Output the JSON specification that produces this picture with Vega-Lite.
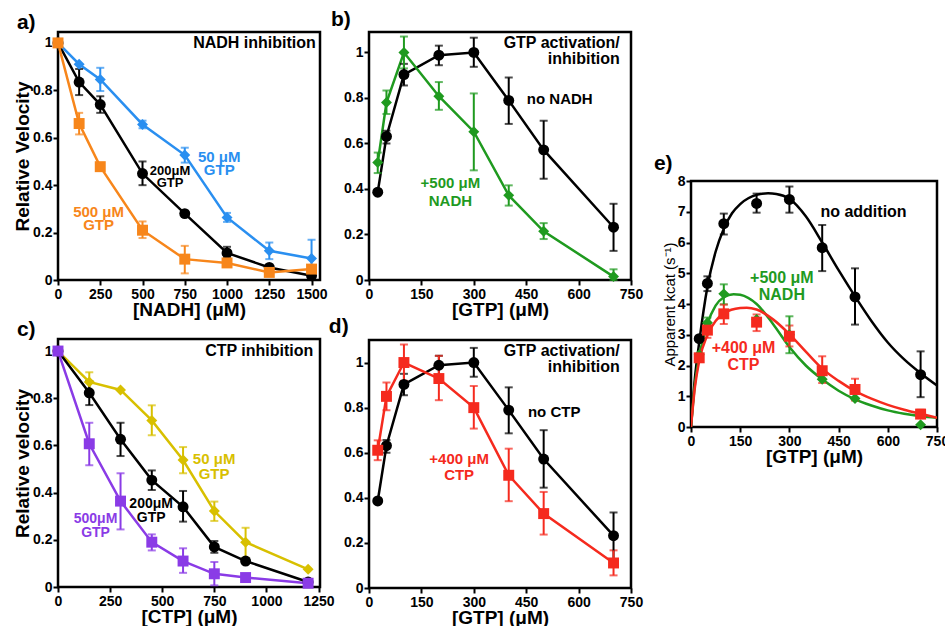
{
"$schema": "https://vega.github.io/schema/vega-lite/v6.json",
"background": "white",
"padding": {"left": 12, "top": 7, "right": 0, "bottom": 0},
"config": {
  "font": "Liberation Sans",
  "view": {"stroke": "black", "strokeWidth": 2.5},
  "axis": {"domain": false, "grid": false, "ticks": true, "tickSize": 5, "tickWidth": 2, "tickColor": "black",
           "labelFont": "Liberation Sans", "labelFontSize": 14, "labelFontWeight": "bold", "labelColor": "black",
           "labelPadding": 2, "labelFlush": false, "labelOverlap": false,
           "titleFont": "Liberation Sans", "titleFontSize": 19, "titleFontWeight": "bold", "titleColor": "black", "titlePadding": 2},
  "axisX": {"titlePadding": -1},
  "axisY": {"labelPadding": 1, "titlePadding": 0},
  "text": {"font": "Liberation Sans", "fontWeight": "bold"}
},
"datasets": {
  "a": [
    {"s":"a200","x":0,"y":1.0},{"s":"a200","x":125,"y":0.835,"lo":0.78,"hi":0.89},{"s":"a200","x":250,"y":0.74,"lo":0.705,"hi":0.775},{"s":"a200","x":500,"y":0.449,"lo":0.40,"hi":0.50},{"s":"a200","x":750,"y":0.28},{"s":"a200","x":1000,"y":0.114,"lo":0.095,"hi":0.14},{"s":"a200","x":1250,"y":0.053},{"s":"a200","x":1500,"y":0.018},
    {"s":"a50","x":0,"y":1.0},{"s":"a50","x":125,"y":0.91},{"s":"a50","x":250,"y":0.846,"lo":0.797,"hi":0.895},{"s":"a50","x":500,"y":0.656,"lo":0.64,"hi":0.672},{"s":"a50","x":750,"y":0.527,"lo":0.495,"hi":0.558},{"s":"a50","x":1000,"y":0.264,"lo":0.245,"hi":0.283},{"s":"a50","x":1250,"y":0.123,"lo":0.088,"hi":0.158},{"s":"a50","x":1500,"y":0.091,"lo":0.01,"hi":0.17},
    {"s":"a500","x":0,"y":1.0},{"s":"a500","x":125,"y":0.66,"lo":0.614,"hi":0.705},{"s":"a500","x":250,"y":0.478},{"s":"a500","x":500,"y":0.21,"lo":0.177,"hi":0.247},{"s":"a500","x":750,"y":0.088,"lo":0.028,"hi":0.144},{"s":"a500","x":1000,"y":0.072},{"s":"a500","x":1250,"y":0.032},{"s":"a500","x":1500,"y":0.046}
  ],
  "b": [
    {"s":"b0","x":25,"y":0.386},{"s":"b0","x":50,"y":0.631,"lo":0.60,"hi":0.656},{"s":"b0","x":100,"y":0.903,"lo":0.855,"hi":0.95},{"s":"b0","x":200,"y":0.988,"lo":0.944,"hi":1.03},{"s":"b0","x":300,"y":1.0,"lo":0.937,"hi":1.065},{"s":"b0","x":400,"y":0.789,"lo":0.686,"hi":0.89},{"s":"b0","x":500,"y":0.572,"lo":0.445,"hi":0.70},{"s":"b0","x":700,"y":0.232,"lo":0.128,"hi":0.335},
    {"s":"bN","x":25,"y":0.516,"lo":0.47,"hi":0.56},{"s":"bN","x":50,"y":0.78,"lo":0.73,"hi":0.833},{"s":"bN","x":100,"y":1.0,"lo":0.93,"hi":1.07},{"s":"bN","x":200,"y":0.808,"lo":0.748,"hi":0.87},{"s":"bN","x":300,"y":0.652,"lo":0.482,"hi":0.82},{"s":"bN","x":400,"y":0.372,"lo":0.327,"hi":0.416},{"s":"bN","x":500,"y":0.214,"lo":0.18,"hi":0.25},{"s":"bN","x":700,"y":0.015,"lo":0.0,"hi":0.047}
  ],
  "c": [
    {"s":"c50","x":0,"y":1.0},{"s":"c50","x":150,"y":0.869,"lo":0.823,"hi":0.91},{"s":"c50","x":300,"y":0.835},{"s":"c50","x":450,"y":0.706,"lo":0.643,"hi":0.77},{"s":"c50","x":600,"y":0.538,"lo":0.482,"hi":0.593},{"s":"c50","x":750,"y":0.322,"lo":0.28,"hi":0.362},{"s":"c50","x":900,"y":0.19,"lo":0.124,"hi":0.251},{"s":"c50","x":1200,"y":0.075},
    {"s":"c200","x":0,"y":1.0},{"s":"c200","x":150,"y":0.823,"lo":0.771,"hi":0.873},{"s":"c200","x":300,"y":0.626,"lo":0.555,"hi":0.696},{"s":"c200","x":450,"y":0.453,"lo":0.411,"hi":0.494},{"s":"c200","x":600,"y":0.34,"lo":0.277,"hi":0.407},{"s":"c200","x":750,"y":0.17,"lo":0.145,"hi":0.195},{"s":"c200","x":900,"y":0.11},{"s":"c200","x":1200,"y":0.021},
    {"s":"c500","x":0,"y":1.0},{"s":"c500","x":150,"y":0.607,"lo":0.516,"hi":0.696},{"s":"c500","x":300,"y":0.364,"lo":0.244,"hi":0.482},{"s":"c500","x":450,"y":0.19,"lo":0.155,"hi":0.223},{"s":"c500","x":600,"y":0.11,"lo":0.06,"hi":0.164},{"s":"c500","x":750,"y":0.056,"lo":0.007,"hi":0.106},{"s":"c500","x":900,"y":0.04},{"s":"c500","x":1200,"y":0.016}
  ],
  "d": [
    {"s":"d0","x":25,"y":0.386},{"s":"d0","x":50,"y":0.631,"lo":0.60,"hi":0.656},{"s":"d0","x":100,"y":0.903,"lo":0.855,"hi":0.95},{"s":"d0","x":200,"y":0.988,"lo":0.944,"hi":1.03},{"s":"d0","x":300,"y":1.0,"lo":0.937,"hi":1.065},{"s":"d0","x":400,"y":0.789,"lo":0.686,"hi":0.89},{"s":"d0","x":500,"y":0.572,"lo":0.445,"hi":0.70},{"s":"d0","x":700,"y":0.232,"lo":0.128,"hi":0.335},
    {"s":"dC","x":25,"y":0.611,"lo":0.567,"hi":0.655},{"s":"dC","x":50,"y":0.85,"lo":0.788,"hi":0.911},{"s":"dC","x":100,"y":1.0,"lo":0.919,"hi":1.08},{"s":"dC","x":200,"y":0.929,"lo":0.833,"hi":1.03},{"s":"dC","x":300,"y":0.80,"lo":0.707,"hi":0.896},{"s":"dC","x":400,"y":0.50,"lo":0.385,"hi":0.618},{"s":"dC","x":500,"y":0.33,"lo":0.237,"hi":0.426},{"s":"dC","x":700,"y":0.111,"lo":0.056,"hi":0.167}
  ],
  "e": [
    {"s":"e0","x":25,"y":2.87},{"s":"e0","x":50,"y":4.67,"lo":4.42,"hi":4.9},{"s":"e0","x":100,"y":6.61,"lo":6.26,"hi":6.94},{"s":"e0","x":200,"y":7.27,"lo":6.97,"hi":7.59},{"s":"e0","x":300,"y":7.40,"lo":6.97,"hi":7.82},{"s":"e0","x":400,"y":5.83,"lo":5.07,"hi":6.57},{"s":"e0","x":500,"y":4.23,"lo":3.33,"hi":5.16},{"s":"e0","x":700,"y":1.70,"lo":0.97,"hi":2.46},
    {"s":"eN","x":25,"y":2.35},{"s":"eN","x":50,"y":3.39,"lo":3.22,"hi":3.56},{"s":"eN","x":100,"y":4.33,"lo":3.99,"hi":4.64},{"s":"eN","x":200,"y":3.5},{"s":"eN","x":300,"y":3.0,"lo":2.4,"hi":3.6},{"s":"eN","x":400,"y":1.55},{"s":"eN","x":500,"y":0.93},{"s":"eN","x":700,"y":0.07},
    {"s":"eC","x":25,"y":2.25},{"s":"eC","x":50,"y":3.15,"lo":2.9,"hi":3.35},{"s":"eC","x":100,"y":3.68,"lo":3.35,"hi":3.98},{"s":"eC","x":200,"y":3.41,"lo":3.12,"hi":3.66},{"s":"eC","x":300,"y":2.95,"lo":2.62,"hi":3.3},{"s":"eC","x":400,"y":1.83,"lo":1.43,"hi":2.3},{"s":"eC","x":500,"y":1.22,"lo":0.86,"hi":1.57},{"s":"eC","x":700,"y":0.42,"lo":0.29,"hi":0.56}
  ],
  "ecurve": [
    {"s":"e0","x":0,"y":0},{"s":"e0","x":12,"y":1.6},{"s":"e0","x":25,"y":2.75},{"s":"e0","x":50,"y":4.55},{"s":"e0","x":75,"y":5.7},{"s":"e0","x":100,"y":6.45},{"s":"e0","x":125,"y":6.95},{"s":"e0","x":150,"y":7.25},{"s":"e0","x":200,"y":7.55},{"s":"e0","x":235,"y":7.6},{"s":"e0","x":260,"y":7.58},{"s":"e0","x":300,"y":7.42},{"s":"e0","x":350,"y":6.85},{"s":"e0","x":400,"y":6.0},{"s":"e0","x":450,"y":5.1},{"s":"e0","x":500,"y":4.25},{"s":"e0","x":550,"y":3.45},{"s":"e0","x":600,"y":2.75},{"s":"e0","x":650,"y":2.2},{"s":"e0","x":700,"y":1.75},{"s":"e0","x":750,"y":1.35},
    {"s":"eN","x":0,"y":0},{"s":"eN","x":12,"y":1.4},{"s":"eN","x":25,"y":2.3},{"s":"eN","x":50,"y":3.35},{"s":"eN","x":75,"y":3.95},{"s":"eN","x":100,"y":4.22},{"s":"eN","x":130,"y":4.32},{"s":"eN","x":150,"y":4.3},{"s":"eN","x":200,"y":4.0},{"s":"eN","x":250,"y":3.35},{"s":"eN","x":300,"y":2.6},{"s":"eN","x":350,"y":2.0},{"s":"eN","x":400,"y":1.55},{"s":"eN","x":450,"y":1.18},{"s":"eN","x":500,"y":0.9},{"s":"eN","x":550,"y":0.7},{"s":"eN","x":600,"y":0.54},{"s":"eN","x":650,"y":0.43},{"s":"eN","x":700,"y":0.35},{"s":"eN","x":750,"y":0.3},
    {"s":"eC","x":0,"y":0},{"s":"eC","x":12,"y":1.3},{"s":"eC","x":25,"y":2.15},{"s":"eC","x":50,"y":3.0},{"s":"eC","x":75,"y":3.45},{"s":"eC","x":100,"y":3.7},{"s":"eC","x":150,"y":3.87},{"s":"eC","x":170,"y":3.88},{"s":"eC","x":200,"y":3.82},{"s":"eC","x":250,"y":3.5},{"s":"eC","x":300,"y":3.02},{"s":"eC","x":350,"y":2.45},{"s":"eC","x":400,"y":1.9},{"s":"eC","x":450,"y":1.5},{"s":"eC","x":500,"y":1.17},{"s":"eC","x":550,"y":0.92},{"s":"eC","x":600,"y":0.72},{"s":"eC","x":650,"y":0.56},{"s":"eC","x":700,"y":0.43},{"s":"eC","x":750,"y":0.3}
  ]
},
"spacing": -9,
"hconcat": [
{
"spacing": 59,
"bounds": "flush",
"vconcat": [
{
  "width": 262, "height": 248,
  "encoding": {
    "x": {"field": "x", "type": "quantitative", "scale": {"domain": [0, 1550], "nice": false, "zero": false}, "axis": {"values": [0,250,500,750,1000,1250,1500], "format": "d", "title": "[NADH]  (μM)"}},
    "y": {"field": "y", "type": "quantitative", "scale": {"domain": [0, 1.046], "nice": false}, "axis": {"values": [0,0.2,0.4,0.6,0.8,1], "format": "~g", "title": "Relative Velocity"}},
    "color": {"field": "s", "type": "nominal", "legend": null, "scale": {"domain": ["k","a50","a200","a500","b0","bN","c50","c200","c500","d0","dC","e0","eN","eC"], "range": ["#000000","#2a8ff0","#000000","#f7861b","#000000","#1f9a1f","#d8c000","#000000","#8a3be6","#000000","#f52a1e","#000000","#1f9a1f","#f52a1e"]}}
  },
  "layer": [
    {"data": {"name": "a"}, "mark": {"type": "line", "strokeWidth": 2.5}},
    {"data": {"name": "a"}, "transform": [{"filter": "datum.lo != null"}], "mark": {"type": "errorbar", "ticks": {"size": 8}, "thickness": 2}, "encoding": {"y": {"field": "lo", "type": "quantitative", "title": "Relative Velocity"}, "y2": {"field": "hi"}}},
    {"data": {"name": "a"}, "mark": {"type": "point", "filled": true, "opacity": 1, "size": 120}, "encoding": {"shape": {"field": "s", "type": "nominal", "legend": null, "scale": {"domain": ["a50","a200","a500","b0","bN","c50","c200","c500","d0","dC","e0","eN","eC"], "range": ["diamond","circle","square","circle","diamond","diamond","circle","square","circle","square","circle","diamond","square"]}}}},
    {"data": {"values": [{"s":"k","x":-243,"y":1.086,"t":"a)"}]}, "mark": {"type": "text", "align": "left", "baseline": "middle", "fontSize": 21}, "encoding": {"text": {"field": "t"}}},
    {"data": {"values": [{"s":"k","x":1525,"y":1.0,"t":"NADH inhibition"}]}, "mark": {"type": "text", "align": "right", "baseline": "middle", "fontSize": 16}, "encoding": {"text": {"field": "t"}}},
    {"data": {"values": [{"s":"a50","x":954,"y":0.52,"t":"50 μM\nGTP"},{"s":"a500","x":240,"y":0.287,"t":"500 μM\nGTP"}]}, "mark": {"type": "text", "align": "center", "baseline": "middle", "fontSize": 15, "lineBreak": "\n", "lineHeight": 13}, "encoding": {"text": {"field": "t"}}},
    {"data": {"values": [{"s":"a200","x":663,"y":0.46,"t":"200μM\nGTP"}]}, "mark": {"type": "text", "align": "center", "baseline": "middle", "fontSize": 13, "lineBreak": "\n", "lineHeight": 12}, "encoding": {"text": {"field": "t"}}}
  ]
},
{
  "width": 262, "height": 248,
  "encoding": {
    "x": {"field": "x", "type": "quantitative", "scale": {"domain": [0, 1257], "nice": false, "zero": false}, "axis": {"values": [0,250,500,750,1000,1250], "format": "d", "title": "[CTP]  (μM)"}},
    "y": {"field": "y", "type": "quantitative", "scale": {"domain": [0, 1.051], "nice": false}, "axis": {"values": [0,0.2,0.4,0.6,0.8,1], "format": "~g", "title": "Relative velocity"}},
    "color": {"field": "s", "type": "nominal", "legend": null, "scale": {"domain": ["k","a50","a200","a500","b0","bN","c50","c200","c500","d0","dC","e0","eN","eC"], "range": ["#000000","#2a8ff0","#000000","#f7861b","#000000","#1f9a1f","#d8c000","#000000","#8a3be6","#000000","#f52a1e","#000000","#1f9a1f","#f52a1e"]}}
  },
  "layer": [
    {"data": {"name": "c"}, "mark": {"type": "line", "strokeWidth": 2.5}},
    {"data": {"name": "c"}, "transform": [{"filter": "datum.lo != null"}], "mark": {"type": "errorbar", "ticks": {"size": 8}, "thickness": 2}, "encoding": {"y": {"field": "lo", "type": "quantitative", "title": "Relative velocity"}, "y2": {"field": "hi"}}},
    {"data": {"name": "c"}, "mark": {"type": "point", "filled": true, "opacity": 1, "size": 120}, "encoding": {"shape": {"field": "s", "type": "nominal", "legend": null, "scale": {"domain": ["a50","a200","a500","b0","bN","c50","c200","c500","d0","dC","e0","eN","eC"], "range": ["diamond","circle","square","circle","diamond","diamond","circle","square","circle","square","circle","diamond","square"]}}}},
    {"data": {"values": [{"s":"k","x":-197,"y":1.091,"t":"c)"}]}, "mark": {"type": "text", "align": "left", "baseline": "middle", "fontSize": 21}, "encoding": {"text": {"field": "t"}}},
    {"data": {"values": [{"s":"k","x":1225,"y":1.0,"t":"CTP inhibition"}]}, "mark": {"type": "text", "align": "right", "baseline": "middle", "fontSize": 16}, "encoding": {"text": {"field": "t"}}},
    {"data": {"values": [{"s":"c50","x":749,"y":0.542,"t":"50 μM\nGTP"}]}, "mark": {"type": "text", "align": "center", "baseline": "middle", "fontSize": 15, "lineBreak": "\n", "lineHeight": 15}, "encoding": {"text": {"field": "t"}}},
    {"data": {"values": [{"s":"c200","x":447,"y":0.352,"t":"200μM\nGTP"},{"s":"c500","x":180,"y":0.288,"t":"500μM\nGTP"}]}, "mark": {"type": "text", "align": "center", "baseline": "middle", "fontSize": 14, "lineBreak": "\n", "lineHeight": 14}, "encoding": {"text": {"field": "t"}}}
  ]
}
]
},
{
"spacing": 60,
"bounds": "flush",
"vconcat": [
{
  "width": 262, "height": 248,
  "encoding": {
    "x": {"field": "x", "type": "quantitative", "scale": {"domain": [0, 750], "nice": false, "zero": false}, "axis": {"values": [0,150,300,450,600,750], "format": "d", "title": "[GTP]  (μM)"}},
    "y": {"field": "y", "type": "quantitative", "scale": {"domain": [0, 1.09], "nice": false}, "axis": {"values": [0,0.2,0.4,0.6,0.8,1], "format": "~g", "title": null}},
    "color": {"field": "s", "type": "nominal", "legend": null, "scale": {"domain": ["k","a50","a200","a500","b0","bN","c50","c200","c500","d0","dC","e0","eN","eC"], "range": ["#000000","#2a8ff0","#000000","#f7861b","#000000","#1f9a1f","#d8c000","#000000","#8a3be6","#000000","#f52a1e","#000000","#1f9a1f","#f52a1e"]}}
  },
  "layer": [
    {"data": {"name": "b"}, "mark": {"type": "line", "strokeWidth": 2.5}},
    {"data": {"name": "b"}, "transform": [{"filter": "datum.lo != null"}], "mark": {"type": "errorbar", "ticks": {"size": 8}, "thickness": 2}, "encoding": {"y": {"field": "lo", "type": "quantitative", "title": null}, "y2": {"field": "hi"}}},
    {"data": {"name": "b"}, "mark": {"type": "point", "filled": true, "opacity": 1, "size": 120}, "encoding": {"shape": {"field": "s", "type": "nominal", "legend": null, "scale": {"domain": ["a50","a200","a500","b0","bN","c50","c200","c500","d0","dC","e0","eN","eC"], "range": ["diamond","circle","square","circle","diamond","diamond","circle","square","circle","square","circle","diamond","square"]}}}},
    {"data": {"values": [{"s":"k","x":-109,"y":1.142,"t":"b)"}]}, "mark": {"type": "text", "align": "left", "baseline": "middle", "fontSize": 21}, "encoding": {"text": {"field": "t"}}},
    {"data": {"values": [{"s":"k","x":718,"y":1.04,"t":"GTP activation/\ninhibition"}]}, "mark": {"type": "text", "align": "right", "baseline": "middle", "fontSize": 16, "lineBreak": "\n", "lineHeight": 16}, "encoding": {"text": {"field": "t"}}},
    {"data": {"values": [{"s":"k","x":546,"y":0.796,"t":"no NADH"},{"s":"bN","x":233,"y":0.425,"t":"+500 μM\nNADH"}]}, "mark": {"type": "text", "align": "center", "baseline": "middle", "fontSize": 15, "lineBreak": "\n", "lineHeight": 18}, "encoding": {"text": {"field": "t"}}}
  ]
},
{
  "width": 262, "height": 248,
  "encoding": {
    "x": {"field": "x", "type": "quantitative", "scale": {"domain": [0, 750], "nice": false, "zero": false}, "axis": {"values": [0,150,300,450,600,750], "format": "d", "title": "[GTP]  (μM)"}},
    "y": {"field": "y", "type": "quantitative", "scale": {"domain": [0, 1.1], "nice": false}, "axis": {"values": [0,0.2,0.4,0.6,0.8,1], "format": "~g", "title": null}},
    "color": {"field": "s", "type": "nominal", "legend": null, "scale": {"domain": ["k","a50","a200","a500","b0","bN","c50","c200","c500","d0","dC","e0","eN","eC"], "range": ["#000000","#2a8ff0","#000000","#f7861b","#000000","#1f9a1f","#d8c000","#000000","#8a3be6","#000000","#f52a1e","#000000","#1f9a1f","#f52a1e"]}}
  },
  "layer": [
    {"data": {"name": "d"}, "mark": {"type": "line", "strokeWidth": 2.5}},
    {"data": {"name": "d"}, "transform": [{"filter": "datum.lo != null"}], "mark": {"type": "errorbar", "ticks": {"size": 8}, "thickness": 2}, "encoding": {"y": {"field": "lo", "type": "quantitative", "title": null}, "y2": {"field": "hi"}}},
    {"data": {"name": "d"}, "mark": {"type": "point", "filled": true, "opacity": 1, "size": 120}, "encoding": {"shape": {"field": "s", "type": "nominal", "legend": null, "scale": {"domain": ["a50","a200","a500","b0","bN","c50","c200","c500","d0","dC","e0","eN","eC"], "range": ["diamond","circle","square","circle","diamond","diamond","circle","square","circle","square","circle","diamond","square"]}}}},
    {"data": {"values": [{"s":"k","x":-115,"y":1.158,"t":"d)"}]}, "mark": {"type": "text", "align": "left", "baseline": "middle", "fontSize": 21}, "encoding": {"text": {"field": "t"}}},
    {"data": {"values": [{"s":"k","x":718,"y":1.049,"t":"GTP activation/\ninhibition"}]}, "mark": {"type": "text", "align": "right", "baseline": "middle", "fontSize": 16, "lineBreak": "\n", "lineHeight": 16}, "encoding": {"text": {"field": "t"}}},
    {"data": {"values": [{"s":"k","x":530,"y":0.782,"t":"no CTP"},{"s":"dC","x":258,"y":0.573,"t":"+400 μM\nCTP"}]}, "mark": {"type": "text", "align": "center", "baseline": "middle", "fontSize": 15, "lineBreak": "\n", "lineHeight": 16}, "encoding": {"text": {"field": "t"}}}
  ]
}
]
},
{
"spacing": 0,
"bounds": "flush",
"vconcat": [
{
  "width": 246, "height": 149,
  "view": {"stroke": null},
  "data": {"values": [{"x": 0}]},
  "mark": {"type": "point", "opacity": 0},
  "encoding": {}
},
{
  "width": 246, "height": 246,
  "encoding": {
    "x": {"field": "x", "type": "quantitative", "scale": {"domain": [0, 750], "nice": false, "zero": false}, "axis": {"values": [0,150,300,450,600,750], "format": "d", "title": "[GTP] (μM)"}},
    "y": {"field": "y", "type": "quantitative", "scale": {"domain": [0, 8], "nice": false}, "axis": {"values": [0,1,2,3,4,5,6,7,8], "format": "d", "title": "Apparent kcat (s⁻¹)", "titleFontSize": 15, "titleFontWeight": "normal", "titlePadding": 0}},
    "color": {"field": "s", "type": "nominal", "legend": null, "scale": {"domain": ["k","a50","a200","a500","b0","bN","c50","c200","c500","d0","dC","e0","eN","eC"], "range": ["#000000","#2a8ff0","#000000","#f7861b","#000000","#1f9a1f","#d8c000","#000000","#8a3be6","#000000","#f52a1e","#000000","#1f9a1f","#f52a1e"]}}
  },
  "layer": [
    {"data": {"name": "ecurve"}, "mark": {"type": "line", "strokeWidth": 2.5, "interpolate": "monotone", "clip": true}},
    {"data": {"name": "e"}, "transform": [{"filter": "datum.lo != null"}], "mark": {"type": "errorbar", "ticks": {"size": 8}, "thickness": 2}, "encoding": {"y": {"field": "lo", "type": "quantitative", "title": "Apparent kcat (s⁻¹)"}, "y2": {"field": "hi"}}},
    {"data": {"name": "e"}, "mark": {"type": "point", "filled": true, "opacity": 1, "size": 120}, "encoding": {"shape": {"field": "s", "type": "nominal", "legend": null, "scale": {"domain": ["a50","a200","a500","b0","bN","c50","c200","c500","d0","dC","e0","eN","eC"], "range": ["diamond","circle","square","circle","diamond","diamond","circle","square","circle","square","circle","diamond","square"]}}}},
    {"data": {"values": [{"s":"k","x":-165,"y":4}]}, "mark": {"type": "point", "opacity": 0, "size": 1}},
    {"data": {"values": [{"s":"k","x":-113,"y":8.54,"t":"e)"}]}, "mark": {"type": "text", "align": "left", "baseline": "middle", "fontSize": 21}, "encoding": {"text": {"field": "t"}}},
    {"data": {"values": [{"s":"k","x":526,"y":7.0,"t":"no addition"}]}, "mark": {"type": "text", "align": "center", "baseline": "middle", "fontSize": 16}, "encoding": {"text": {"field": "t"}}},
    {"data": {"values": [{"s":"eN","x":277,"y":4.85,"t":"+500 μM\nNADH"},{"s":"eC","x":160,"y":2.57,"t":"+400 μM\nCTP"}]}, "mark": {"type": "text", "align": "center", "baseline": "middle", "fontSize": 16, "lineBreak": "\n", "lineHeight": 17}, "encoding": {"text": {"field": "t"}}}
  ]
}
]
}
]
}
